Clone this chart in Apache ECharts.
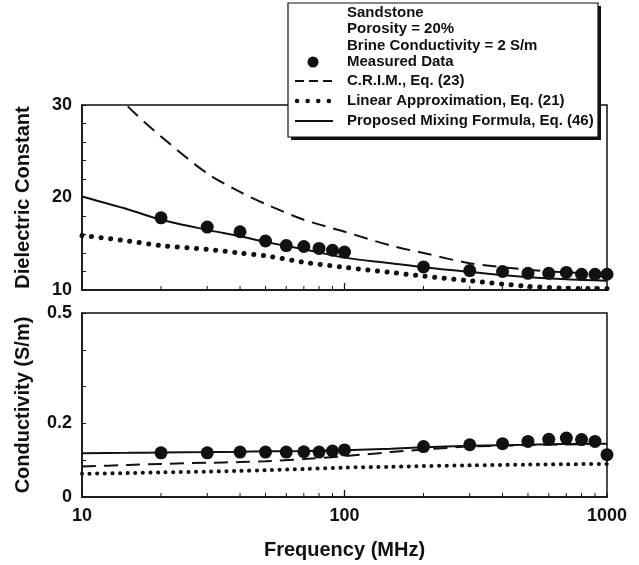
<!DOCTYPE html>
<html>
<head>
<meta charset="UTF-8">
<title>Sandstone mixing formulas</title>
<script src="https://cdn.jsdelivr.net/npm/echarts@6/dist/echarts.min.js"></script>
</head>
<body style="margin:0;background:#fff">
<div id="main" style="width:639px;height:565px;"></div>
<script>
// measured points (MHz)
var freqMeas = [20, 30, 40, 50, 60, 70, 80, 90, 100, 200, 300, 400, 500, 600, 700, 800, 900, 1000];
var epsMeas = [17.8, 16.8, 16.3, 15.3, 14.8, 14.7, 14.5, 14.3, 14.1, 12.5, 12.1, 12.0, 11.8, 11.8, 11.9, 11.7, 11.7, 11.7];
var sigMeas = [0.120, 0.120, 0.122, 0.122, 0.122, 0.123, 0.122, 0.125, 0.128, 0.137, 0.142, 0.145, 0.151, 0.157, 0.160, 0.156, 0.151, 0.115];

// model curves
var freqModel = [10, 15, 20, 30, 40, 50, 70, 100, 150, 200, 300, 500, 700, 1000];
var epsCRIM = [35.0, 29.8, 26.6, 22.6, 20.6, 19.3, 17.6, 16.3, 14.8, 14.0, 12.9, 12.2, 11.9, 11.8];
var epsLinear = [15.9, 15.3, 14.8, 14.4, 14.0, 13.7, 13.0, 12.45, 11.9, 11.5, 11.0, 10.4, 10.2, 10.15];
var epsProposed = [20.1, 18.7, 17.6, 16.5, 15.8, 15.2, 14.4, 13.5, 12.9, 12.45, 11.95, 11.4, 11.15, 11.0];
var sigCRIM = [0.083, 0.087, 0.090, 0.093, 0.095, 0.097, 0.103, 0.111, 0.122, 0.129, 0.137, 0.141, 0.143, 0.145];
var sigLinear = [0.063, 0.065, 0.067, 0.069, 0.071, 0.073, 0.076, 0.080, 0.082, 0.084, 0.086, 0.088, 0.089, 0.090];
var sigProposed = [0.119, 0.120, 0.121, 0.122, 0.123, 0.124, 0.125, 0.127, 0.131, 0.135, 0.139, 0.142, 0.144, 0.145];

// tick marks along the log axis
var xTicks = [10, 20, 30, 40, 50, 60, 70, 80, 90, 100, 200, 300, 400, 500, 600, 700, 800, 900, 1000];

var FONT = 'Liberation Sans, Arial, Helvetica, sans-serif';
var INK = '#111';

function pairs(xs, ys) {
    return xs.map(function (x, i) { return [x, ys[i]]; });
}

function xAxisFor(grid, withLabels) {
    return {
        type: 'log', logBase: 10, min: 10, max: 1000, gridIndex: grid, position: 'bottom',
        name: withLabels ? 'Frequency (MHz)' : '', nameLocation: 'middle', nameGap: 43,
        nameTextStyle: { fontFamily: FONT, fontWeight: 'bold', fontSize: 20, color: INK },
        axisLine: { show: true, lineStyle: { color: INK, width: 1.5 } },
        axisTick: { show: false },
        axisLabel: {
            show: withLabels, margin: 10, fontFamily: FONT, fontWeight: 'bold', fontSize: 18, color: INK,
            formatter: function (v) { return String(Math.round(v)); }
        },
        splitLine: { show: false }
    };
}

// inside ticks on the bottom edge, placed through the log axis
function tickSeries(xi, yi, yBase) {
    return {
        type: 'custom', xAxisIndex: xi, yAxisIndex: yi, silent: true, clip: false, z: 5,
        data: xTicks.map(function (v) { return [v]; }),
        encode: { x: 0 },
        renderItem: function (params, api) {
            var v = api.value(0);
            var p = api.coord([v, yBase]);
            var len = v === 100 ? 7 : 4;
            return {
                type: 'line',
                shape: { x1: p[0], y1: p[1], x2: p[0], y2: p[1] - len },
                style: { stroke: INK, lineWidth: v === 100 ? 1.3 : 1 }
            };
        }
    };
}

function lineSeries(xi, yi, ys, style) {
    return {
        type: 'line', xAxisIndex: xi, yAxisIndex: yi, data: pairs(freqModel, ys),
        symbol: 'none', smooth: 0.3, clip: true, silent: true,
        lineStyle: Object.assign({ color: INK }, style), z: 2
    };
}

function dotSeries(xi, yi, ys) {
    return {
        type: 'scatter', xAxisIndex: xi, yAxisIndex: yi, data: pairs(freqMeas, ys),
        symbol: 'circle', symbolSize: 13, itemStyle: { color: INK, opacity: 1 }, z: 3
    };
}

var legendFont = 'bold 15px ' + FONT;

var option = {
    backgroundColor: '#fff',
    animation: false,
    grid: [
        { left: 82, right: 32, top: 105, height: 185, show: true, borderColor: INK, borderWidth: 1.5, backgroundColor: 'transparent' },
        { left: 82, right: 32, top: 313, height: 184, show: true, borderColor: INK, borderWidth: 1.5, backgroundColor: 'transparent' }
    ],
    xAxis: [xAxisFor(0, false), xAxisFor(1, true)],
    yAxis: [{
        type: 'value', gridIndex: 0, min: 10, max: 30, interval: 2,
        name: 'Dielectric Constant', nameLocation: 'middle', nameGap: 49,
        nameTextStyle: { fontFamily: FONT, fontWeight: 'bold', fontSize: 20, color: INK },
        axisLine: { show: true, lineStyle: { color: INK, width: 1.5 } },
        axisTick: { show: true, inside: true, length: 4, lineStyle: { color: INK } },
        axisLabel: {
            margin: 10, fontFamily: FONT, fontWeight: 'bold', fontSize: 18, color: INK,
            formatter: function (v) { return (v === 10 || v === 20 || v === 30) ? String(v) : ''; }
        },
        splitLine: { show: false }
    }, {
        type: 'value', gridIndex: 1, min: 0, max: 0.5, interval: 0.1,
        name: 'Conductivity (S/m)', nameLocation: 'middle', nameGap: 49,
        nameTextStyle: { fontFamily: FONT, fontWeight: 'bold', fontSize: 20, color: INK },
        axisLine: { show: true, lineStyle: { color: INK, width: 1.5 } },
        axisTick: { show: true, inside: true, length: 4, lineStyle: { color: INK } },
        axisLabel: {
            margin: 10, fontFamily: FONT, fontWeight: 'bold', fontSize: 18, color: INK,
            formatter: function (v) {
                v = Math.round(v * 10) / 10;
                return v === 0 ? '0' : (v === 0.2 || v === 0.5) ? String(v) : '';
            }
        },
        splitLine: { show: false }
    }],
    series: [
        lineSeries(0, 0, epsCRIM, { type: [14, 8], width: 2 }),
        lineSeries(0, 0, epsLinear, { type: [0.1, 9.5], width: 5, cap: 'round' }),
        lineSeries(0, 0, epsProposed, { width: 2 }),
        dotSeries(0, 0, epsMeas),
        tickSeries(0, 0, 10),
        lineSeries(1, 1, sigCRIM, { type: [14, 8], width: 2 }),
        lineSeries(1, 1, sigLinear, { type: [0.1, 7.5], width: 4, cap: 'round' }),
        lineSeries(1, 1, sigProposed, { width: 2 }),
        dotSeries(1, 1, sigMeas),
        tickSeries(1, 1, 0)
    ],
    graphic: [
        { type: 'rect', shape: { x: 291, y: 6, width: 310, height: 134 }, style: { fill: INK }, z: 100 },
        { type: 'rect', shape: { x: 288, y: 3, width: 310, height: 134 }, style: { fill: '#fff', stroke: INK, lineWidth: 1.2 }, z: 101 },
        { type: 'text', x: 347, y: 13, z: 102, style: { text: 'Sandstone', font: legendFont, fill: INK, verticalAlign: 'middle' } },
        { type: 'text', x: 347, y: 29, z: 102, style: { text: 'Porosity = 20%', font: legendFont, fill: INK, verticalAlign: 'middle' } },
        { type: 'text', x: 347, y: 46, z: 102, style: { text: 'Brine Conductivity = 2 S/m', font: legendFont, fill: INK, verticalAlign: 'middle' } },
        { type: 'circle', z: 102, shape: { cx: 313, cy: 62, r: 5.5 }, style: { fill: INK } },
        { type: 'text', x: 347, y: 62, z: 102, style: { text: 'Measured Data', font: legendFont, fill: INK, verticalAlign: 'middle' } },
        { type: 'line', z: 102, shape: { x1: 295, y1: 81, x2: 333, y2: 81 }, style: { stroke: INK, lineWidth: 2, lineDash: [9, 5] } },
        { type: 'text', x: 347, y: 81, z: 102, style: { text: 'C.R.I.M., Eq. (23)', font: legendFont, fill: INK, verticalAlign: 'middle' } },
        { type: 'line', z: 102, shape: { x1: 297, y1: 101, x2: 332, y2: 101 }, style: { stroke: INK, lineWidth: 4.5, lineDash: [0.1, 10.5], lineCap: 'round' } },
        { type: 'text', x: 347, y: 101, z: 102, style: { text: 'Linear Approximation, Eq. (21)', font: legendFont, fill: INK, verticalAlign: 'middle' } },
        { type: 'line', z: 102, shape: { x1: 295, y1: 121, x2: 333, y2: 121 }, style: { stroke: INK, lineWidth: 2 } },
        { type: 'text', x: 347, y: 121, z: 102, style: { text: 'Proposed Mixing Formula, Eq. (46)', font: legendFont, fill: INK, verticalAlign: 'middle' } }
    ]
};

var myChart = echarts.init(document.getElementById('main'));
myChart.setOption(option);
</script>
</body>
</html>
